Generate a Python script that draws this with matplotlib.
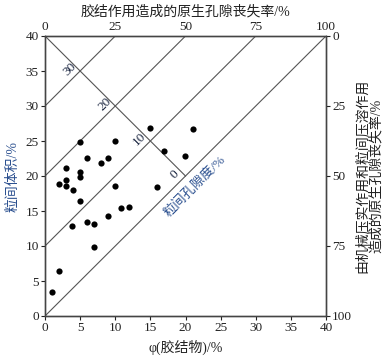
import matplotlib
matplotlib.use("Agg")
import matplotlib.pyplot as plt
import numpy as np

plt.rcParams['font.family'] = ['Liberation Serif', 'Noto Sans CJK SC']
plt.rcParams['axes.unicode_minus'] = False

# data: cement volume (%) vs intergranular volume (%)
cement = [1, 2, 2, 3, 3, 3, 4, 3.8, 5, 5, 5, 5, 6, 6, 7, 7, 8, 9, 9, 10, 10,
          10.8, 12, 14.9, 21, 17, 19.9, 16]
igv = [3.5, 6.4, 18.8, 21.1, 19.4, 18.6, 18.0, 12.9, 24.8, 20.6, 19.9, 16.5,
       22.6, 13.5, 13.2, 9.9, 21.8, 22.6, 14.3, 25.0, 18.6, 15.5, 15.6, 26.8,
       26.7, 23.6, 22.8, 18.4]

porosity_levels = [30, 20, 10, 0]
bottom_ticks = [0, 5, 10, 15, 20, 25, 30, 35, 40]
left_ticks = [0, 5, 10, 15, 20, 25, 30, 35, 40]
top_ticks = [0, 25, 50, 75, 100]
right_ticks = [0, 25, 50, 75, 100]

W, H = 390, 358
fig = plt.figure(figsize=(W / 100, H / 100), dpi=100)
ax = fig.add_axes([45 / W, 1 - 316 / H, (326 - 45) / W, (316 - 36) / H])

line_col = '#555555'
blue = '#2a4f8f'
txt = '#222222'

# porosity lines y = x + c
for c in porosity_levels:
    xs = np.array([0, 40 - c])
    ax.plot(xs, xs + c, color=line_col, lw=0.8, zorder=1)
    xi = (40 - c) / 2.0
    yi = 40 - xi
    ax.text(xi - 1.5, yi + 0.2, str(c), rotation=45, ha='center', va='center',
            fontsize=9.5, color='#1a2540', zorder=3)
# descending line from (0,40) to (20,20)
ax.plot([0, 20], [40, 20], color=line_col, lw=0.8, zorder=1)

ax.text(21.3, 18.6, '粒间孔隙度/%', rotation=45, ha='center', va='center',
        fontsize=9.5, color=blue)

ax.scatter(cement, igv, s=20, color='black', zorder=4, linewidths=0)

ax.set_xlim(0, 40)
ax.set_ylim(0, 40)
ax.set_xticks(bottom_ticks)
ax.set_yticks(left_ticks)
ax.tick_params(direction='out', length=3, width=0.8, labelsize=9.5, colors=txt,
               pad=1.5)
for s in ax.spines.values():
    s.set_color('#444444')
    s.set_linewidth(0.9)
ax.set_xlabel('φ(胶结物)/%', fontsize=10, color=txt, labelpad=4)
ax.set_ylabel('粒间体积/%', fontsize=10, color=blue, labelpad=4)

axt = ax.twiny()
axt.set_xlim(0, 100)
axt.set_xticks(top_ticks)
axt.tick_params(direction='out', length=0, labelsize=9.5, colors=txt, pad=2)
axt.set_xlabel('胶结作用造成的原生孔隙丧失率/%', fontsize=10, color=txt,
               labelpad=4)

axr = ax.twinx()
axr.set_ylim(100, 0)
axr.set_yticks(right_ticks)
axr.tick_params(direction='out', length=3, width=0.8, labelsize=9.5, colors=txt,
                pad=1.5)
axr.set_ylabel('由机械压实作用和粒间压溶作用\n造成的原生孔隙丧失率/%',
               fontsize=10, color=txt, labelpad=2, linespacing=1.1)
for a in (axt, axr):
    for s in a.spines.values():
        s.set_color('#444444')
        s.set_linewidth(0.9)

fig.savefig('out.png', dpi=100)
